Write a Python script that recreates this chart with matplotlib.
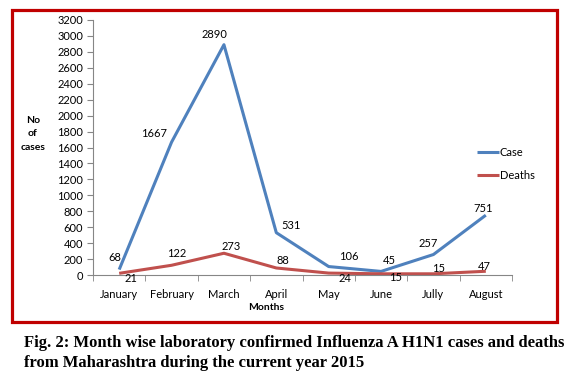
import matplotlib.pyplot as plt
from matplotlib.patches import Rectangle

months = ["January", "February", "March", "April", "May", "June", "Jully", "August"]
cases = [68, 1667, 2890, 531, 106, 45, 257, 751]
deaths = [21, 122, 273, 88, 24, 15, 15, 47]

# label offsets in pixels (dx, dy) relative to each point
case_off = [(-4, 12), (-17, 9), (-9, 10), (15, 7), (20, 10), (8, 11), (-5, 11), (-3, 7)]
death_off = [(12, -5), (5, 12), (7, 7), (7, 7), (16, -5), (15, -4), (5, 5), (-1, 5)]

plt.rcParams['font.family'] = ['Lato', 'DejaVu Sans']

fig = plt.figure(figsize=(5.76, 3.83), dpi=100)
ax = fig.add_axes([93 / 576, 1 - 275 / 383, (512 - 93) / 576, (275 - 20) / 383])

x = list(range(len(months)))
ax.plot(x, cases, color="#4F81BD", lw=2.2, label="Case", solid_capstyle="butt")
ax.plot(x, deaths, color="#C0504D", lw=2.2, label="Deaths", solid_capstyle="butt")

for i in x:
    ax.annotate(str(cases[i]), (i, cases[i]), xytext=case_off[i], textcoords="offset pixels",
                ha="center", va="center", fontsize=8)
    ax.annotate(str(deaths[i]), (i, deaths[i]), xytext=death_off[i], textcoords="offset pixels",
                ha="center", va="center", fontsize=8)

ax.set_xlim(-0.5, len(months) - 0.5)
ax.set_ylim(0, 3200)
ax.set_yticks(range(0, 3201, 200))
ax.set_xticks(x)
ax.set_xticklabels(months)
ax.set_xticks([i - 0.5 for i in range(len(months) + 1)], minor=True)
ax.tick_params(axis="x", which="major", length=0, labelsize=8, pad=10)
ax.tick_params(axis="x", which="minor", length=4, color="#868686")
ax.tick_params(axis="y", length=4, color="#868686", labelsize=8, pad=3)
for s in ["top", "right"]:
    ax.spines[s].set_visible(False)
for s in ["left", "bottom"]:
    ax.spines[s].set_color("#868686")

fig.text(266 / 576, 1 - 307 / 383, "Months", fontsize=7.5, fontweight="bold",
         ha="center", va="center")
fig.text(33 / 576, 1 - 134 / 383, "No\nof\ncases", fontsize=7.5, fontweight="bold",
         ha="center", va="center", linespacing=1.6)

leg = ax.legend(loc="upper left", bbox_to_anchor=(0.905, 0.52), frameon=False, fontsize=8,
                handlelength=2.0, handletextpad=0.1, labelspacing=1.1, borderaxespad=0)

fig.patches.append(Rectangle((11.5 / 576, 1 - 321.5 / 383), 545 / 576, 312 / 383,
                             transform=fig.transFigure, fill=False, ec="#C00000", lw=2.3))

fig.text(24 / 576, 1 - 343 / 383, "Fig. 2: Month wise laboratory confirmed Influenza A H1N1 cases and deaths",
         family="Liberation Serif", fontweight="bold", fontsize=12, va="center")
fig.text(24 / 576, 1 - 363 / 383, "from Maharashtra during the current year 2015",
         family="Liberation Serif", fontweight="bold", fontsize=12, va="center")

fig.savefig("out.png", dpi=100)
